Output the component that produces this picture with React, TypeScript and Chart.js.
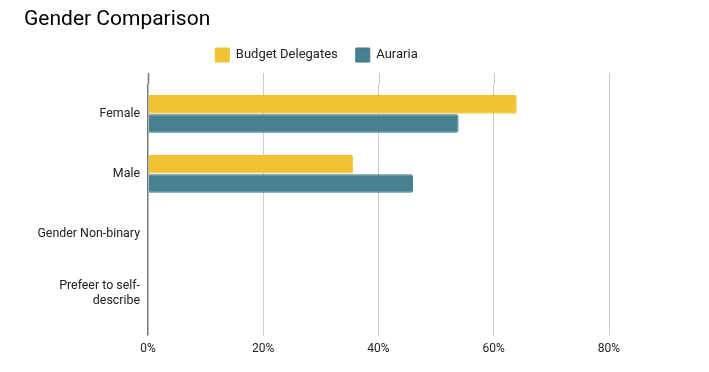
import React, { useEffect, useRef } from "react";
import { Chart, registerables } from "chart.js";

Chart.register(...registerables);

const categories: (string | string[])[] = ["Female", "Male", "Gender Non-binary", ["Prefeer to self-", "describe"]];
const budgetDelegates = [64.0, 35.6, 0, 0];
const auraria = [53.9, 46.0, 0, 0];
const xTicks = [0, 20, 40, 60, 80];

const FONT = "Roboto, 'Noto Sans', sans-serif";

const legendMargin = {
  id: "legendMargin",
  beforeInit(chart: any) {
    const orig = chart.legend.fit;
    chart.legend.fit = function () {
      orig.call(this);
      this.height += 12;
    };
  },
};

const gridExtend = {
  id: "gridExtend",
  beforeDatasetsDraw(chart: any) {
    const { ctx, chartArea, scales } = chart;
    const xs = scales.x;
    ctx.save();
    xs.ticks.forEach((t: any) => {
      const px = Math.round(xs.getPixelForValue(t.value)) + 0.5;
      ctx.strokeStyle = t.value === 0 ? "#777777" : "#cccccc";
      ctx.lineWidth = t.value === 0 ? 1.5 : 1;
      ctx.beginPath();
      ctx.moveTo(px, chartArea.top - 11);
      ctx.lineTo(px, chartArea.top);
      ctx.stroke();
    });
    ctx.restore();
  },
};

export default function App() {
  const ref = useRef<HTMLCanvasElement>(null);
  useEffect(() => {
    if (!ref.current) return;
    const chart = new Chart(ref.current, {
      type: "bar",
      data: {
        labels: categories as any,
        datasets: [
          {
            label: "Budget Delegates",
            data: budgetDelegates,
            backgroundColor: "#f1c232",
            borderColor: "#f1c232",
            borderWidth: 1,
            borderRadius: 2,
            barPercentage: 0.97,
            categoryPercentage: 0.64,
          },
          {
            label: "Auraria",
            data: auraria,
            backgroundColor: "#45818e",
            borderColor: "#3f7783",
            borderWidth: 1,
            borderRadius: 2,
            barPercentage: 0.97,
            categoryPercentage: 0.64,
          },
        ],
      },
      options: {
        indexAxis: "y",
        animation: false,
        responsive: true,
        maintainAspectRatio: false,
        layout: { padding: { left: 24, right: 100, bottom: 10, top: 0 } },
        plugins: {
          title: {
            display: true,
            text: "Gender Comparison",
            align: "start",
            color: "#000000",
            font: { family: FONT, size: 21, weight: "normal", lineHeight: 1.0 },
            padding: { top: 9, bottom: 0 },
          },
          legend: {
            display: true,
            position: "top",
            align: "center",
            labels: {
              boxWidth: 14,
              boxHeight: 14,
              padding: 18,
              color: "#222222",
              font: { family: FONT, size: 13 },
            },
          },
          tooltip: { enabled: false },
        },
        scales: {
          x: {
            type: "linear",
            min: 0,
            max: 80,
            afterBuildTicks(scale: any) {
              scale.ticks = xTicks.map((v) => ({ value: v }));
            },
            ticks: {
              callback: (v: any) => v + "%",
              color: "#222222",
              font: { family: FONT, size: 12 },
              padding: 6,
            },
            grid: {
              color: (c: any) => (c.tick && c.tick.value === 0 ? "#777777" : "#cccccc"),
              lineWidth: (c: any) => (c.tick && c.tick.value === 0 ? 1.5 : 1),
              drawTicks: true,
              tickLength: 12,
            },
            border: { display: false },
          },
          y: {
            type: "category",
            afterFit(scale: any) {
              scale.width = 124;
            },
            ticks: {
              color: "#222222",
              font: { family: FONT, size: 12.4, lineHeight: 1.2 },
              padding: 8,
            },
            grid: { display: false, drawTicks: false, tickLength: 0 },
            border: { display: false },
          },
        },
      },
      plugins: [legendMargin, gridExtend],
    } as any);
    return () => chart.destroy();
  }, []);
  return (
    <div style={{ position: "absolute", left: 0, top: 0, width: 709, height: 372, background: "#ffffff" }}>
      <canvas ref={ref} />
    </div>
  );
}
